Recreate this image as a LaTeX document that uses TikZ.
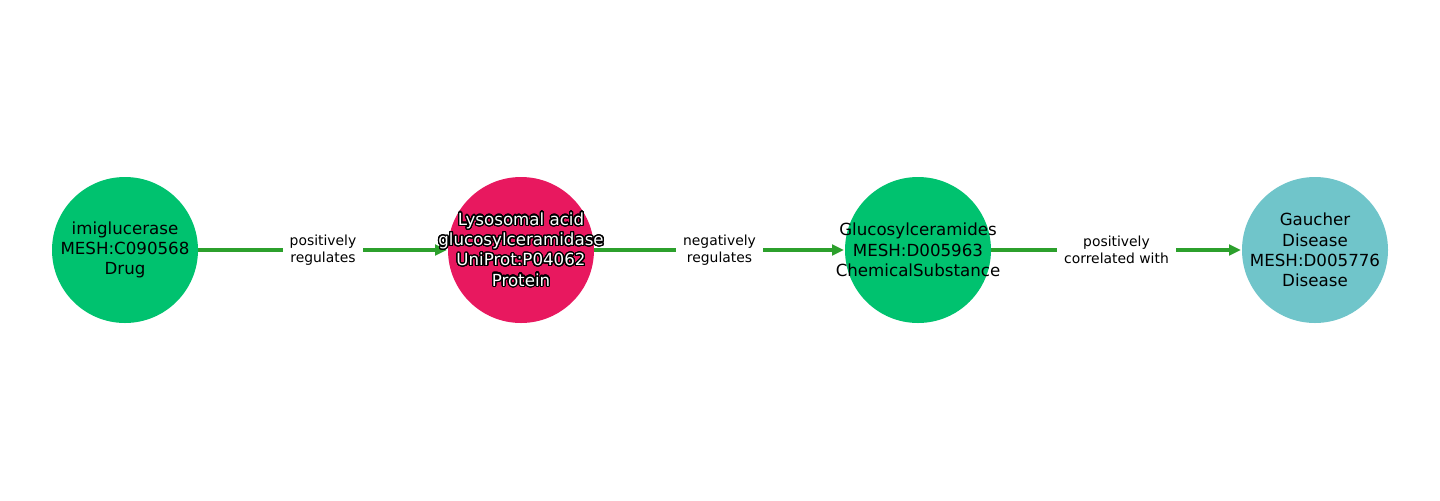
\documentclass[tikz,border=0pt]{standalone}
\usepackage{fontspec}
\setmainfont{DejaVu Sans}
\usepackage{contour}
\contourlength{0.9pt}
\contournumber{32}
\usetikzlibrary{arrows.meta}
\definecolor{ngreen}{HTML}{00C26F}
\definecolor{npink}{HTML}{E8185F}
\definecolor{nteal}{HTML}{70C5CA}
\definecolor{egreen}{HTML}{2CA02C}
\newcommand{\wo}[1]{\contour{black}{#1}}
\tikzset{
  nodecirc/.style={circle, inner sep=0pt, minimum size=105.12pt, draw=none},
  nodetext/.style={align=center, font=\fontsize{12}{14.6}\selectfont, inner sep=0pt},
  edgeline/.style={draw=egreen, line width=2.9pt, -{Triangle[length=8.6pt,width=7.6pt]}, shorten >=0.5pt},
  edgelabel/.style={fill=white, align=center, font=\fontsize{10}{12}\selectfont, inner xsep=5pt, inner ysep=2pt, text=black}
}
\begin{document}
\begin{tikzpicture}[x=0.72pt, y=-0.72pt]
\useasboundingbox (0,0) rectangle (1440,500);
\node[nodecirc, fill=ngreen] (a) at (125,250) {};
\node[nodecirc, fill=npink] (b) at (521,250) {};
\node[nodecirc, fill=ngreen] (c) at (918,250) {};
\node[nodecirc, fill=nteal] (d) at (1315,250) {};
\draw[edgeline] (a) -- (b) node[midway, edgelabel] (ab) {positively\\regulates};
\draw[edgeline] (b) -- (c) node[midway, edgelabel] (bc) {negatively\\regulates};
\draw[edgeline] (c) -- (d) node[midway, edgelabel] (cd) {positively\\correlated with};
\node[nodetext] (ta) at (a.center) {imiglucerase\\MESH:C090568\\Drug};
\node[nodetext, text=white] (tb) at (b.center) {\wo{Lysosomal acid}\\\wo{glucosylceramidase}\\\wo{UniProt:P04062}\\\wo{Protein}};
\node[nodetext] (tc) at (c.center) {Glucosylceramides\\MESH:D005963\\ChemicalSubstance};
\node[nodetext] (td) at (d.center) {Gaucher\\Disease\\MESH:D005776\\Disease};
\end{tikzpicture}
\end{document}
